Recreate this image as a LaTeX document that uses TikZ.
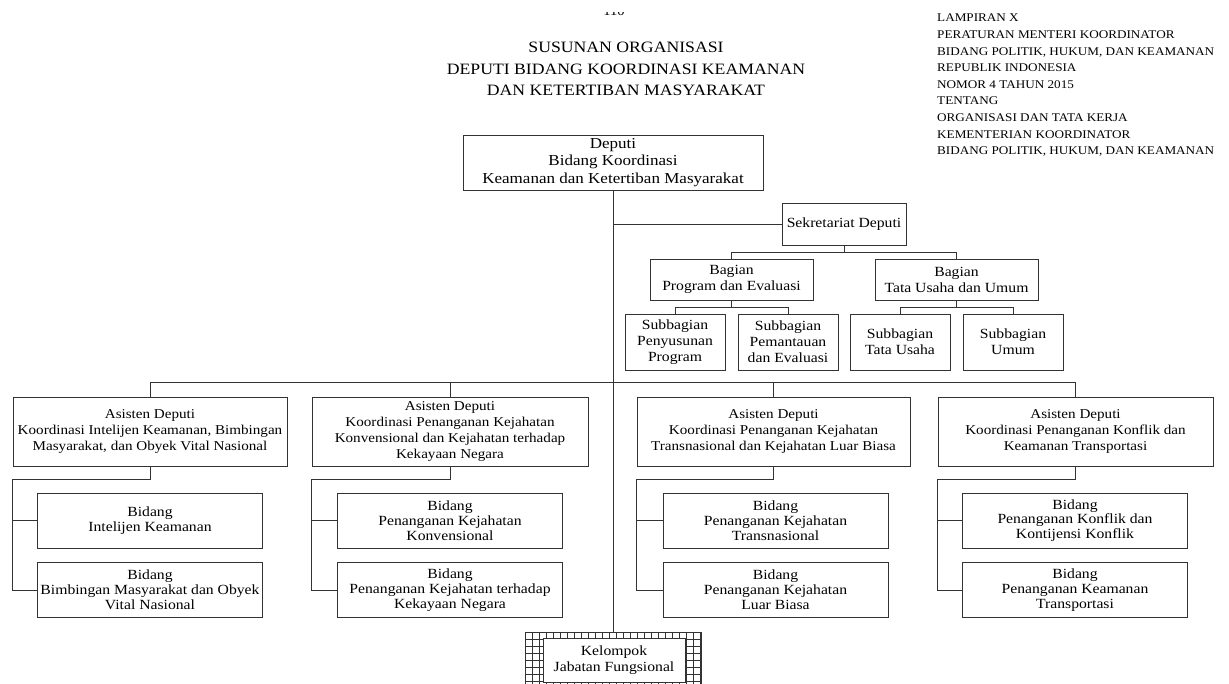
\documentclass[tikz,border=0pt]{standalone}
\usepackage{fontspec}
\setmainfont{Liberation Serif}[FakeStretch=1.12]
\usetikzlibrary{calc}
\tikzset{
  box/.style={draw=black!80, line width=0.9pt, fill=white, align=center, inner sep=0pt,
    font=\fontsize{13.5}{16}\selectfont},
  conn/.style={draw=black!80, line width=0.9pt},
}
\begin{document}
\begin{tikzpicture}[x=1pt,y=-1pt]
\useasboundingbox (0,0) rectangle (1229,683);
\clip (0,0) rectangle (1229,683);
\fill[white] (0,0) rectangle (1229,683);
% page number (cut)
\begin{scope}
\clip (590,12) rectangle (640,20);
\node[anchor=base, font=\fontsize{13}{15}\selectfont, inner sep=0pt] (pg) at (614,15) {110};
\end{scope}
% title
\node[align=center, font=\fontsize{15.8}{21.5}\selectfont, inner sep=0pt] (title) at (626,69)
 {SUSUNAN ORGANISASI\\DEPUTI BIDANG KOORDINASI KEAMANAN\\DAN KETERTIBAN MASYARAKAT};
% header
\node[anchor=north west, align=left, font=\fontsize{11.75}{16.6}\selectfont, inner sep=0pt] (hdr) at (937,14)
 {LAMPIRAN X\\PERATURAN MENTERI KOORDINATOR\\BIDANG POLITIK, HUKUM, DAN KEAMANAN\\REPUBLIK INDONESIA\\NOMOR 4 TAHUN 2015\\TENTANG\\ORGANISASI DAN TATA KERJA\\KEMENTERIAN KOORDINATOR\\BIDANG POLITIK, HUKUM, DAN KEAMANAN};
% Deputi
\node[box, minimum width=300pt, minimum height=55pt, font=\fontsize{15.2}{17.5}\selectfont] (D) at (613,162.5)
 {Deputi\\Bidang Koordinasi\\Keamanan dan Ketertiban Masyarakat};
% Kelompok
\node[minimum width=176pt, minimum height=58pt, inner sep=0pt] (Kout) at (613,661) {};
\begin{scope}
\clip (525,632) rectangle (701,690);
\fill[white] (525,632) rectangle (701,690);
\foreach \i in {0,...,25} {\draw[black!80, line width=0.8pt] (525+7*\i,632) -- (525+7*\i,690);}
\foreach \j in {0,...,8} {\draw[black!80, line width=0.8pt] (525,632+7*\j) -- (701,632+7*\j);}
\end{scope}
\draw[conn] (525,690) -- (525,632) -- (701,632) -- (701,690);
\node[box, minimum width=142pt, minimum height=44pt, font=\fontsize{14}{16}\selectfont] (K) at (614,660) {Kelompok\\Jabatan Fungsional};
% main line
\draw[conn] (D.south) -- (Kout.north);
% Sekretariat
\node[box, minimum width=124pt, minimum height=42pt, font=\fontsize{14}{16}\selectfont] (S) at (844,224) {Sekretariat Deputi};
\draw[conn] (S.west) -- (S.west -| D.south);
\node[box, minimum width=163pt, minimum height=41pt, font=\fontsize{14}{16}\selectfont] (BP) at (731.5,279.5) {Bagian\\Program dan Evaluasi};
\node[box, minimum width=163pt, minimum height=41pt, font=\fontsize{14}{16}\selectfont] (BT) at (956.5,279.5) {Bagian\\Tata Usaha dan Umum};
\draw[conn] (S.south) -- ++(0,7) -| (BP.north);
\draw[conn] (S.south) ++(0,7) -| (BT.north);
\tikzset{sub/.style={box, minimum width=100pt, minimum height=56pt, font=\fontsize{14}{16}\selectfont}}
\node[sub] (SP1) at (675,342) {Subbagian\\Penyusunan\\Program};
\node[sub] (SP2) at (788,342) {Subbagian\\Pemantauan\\dan Evaluasi};
\node[sub] (ST1) at (900,342) {Subbagian\\Tata Usaha};
\node[sub] (ST2) at (1013,342) {Subbagian\\Umum};
\draw[conn] (BP.south) -- ++(0,7) -| (SP1.north);
\draw[conn] (BP.south) ++(0,7) -| (SP2.north);
\draw[conn] (BT.south) -- ++(0,7) -| (ST1.north);
\draw[conn] (BT.south) ++(0,7) -| (ST2.north);
% Asisten Deputi
\node[box, minimum width=274pt, minimum height=69pt] (A1) at (150,431.5)
 {Asisten Deputi\\Koordinasi Intelijen Keamanan, Bimbingan\\Masyarakat, dan Obyek Vital Nasional};
\node[box, minimum width=276pt, minimum height=69pt] (A2) at (450,431.5)
 {Asisten Deputi\\Koordinasi Penanganan Kejahatan\\Konvensional dan Kejahatan terhadap\\Kekayaan Negara};
\node[box, minimum width=273pt, minimum height=69pt] (A3) at (773.5,431.5)
 {Asisten Deputi\\Koordinasi Penanganan Kejahatan\\Transnasional dan Kejahatan Luar Biasa};
\node[box, minimum width=275pt, minimum height=69pt] (A4) at (1075.5,431.5)
 {Asisten Deputi\\Koordinasi Penanganan Konflik dan\\Keamanan Transportasi};
\draw[conn] (A1.north) -- ++(0,-14) -| (A4.north);
\draw[conn] (A2.north) -- ++(0,-14);
\draw[conn] (A3.north) -- ++(0,-14);
% Bidang
\tikzset{bid/.style={box, minimum width=225pt, minimum height=55pt, font=\fontsize{14}{14.8}\selectfont}}
\node[bid] (B11) at (150,520.5) {Bidang\\Intelijen Keamanan};
\node[bid] (B12) at (150,590) {Bidang\\Bimbingan Masyarakat dan Obyek\\Vital Nasional};
\node[bid] (B21) at (450,520.5) {Bidang\\Penanganan Kejahatan\\Konvensional};
\node[bid] (B22) at (450,590) {Bidang\\Penanganan Kejahatan terhadap\\Kekayaan Negara};
\node[bid] (B31) at (775.5,520.5) {Bidang\\Penanganan Kejahatan\\Transnasional};
\node[bid] (B32) at (775.5,590) {Bidang\\Penanganan Kejahatan\\Luar Biasa};
\node[bid] (B41) at (1075,520.5) {Bidang\\Penanganan Konflik dan\\Kontijensi Konflik};
\node[bid] (B42) at (1075,590) {Bidang\\Penanganan Keamanan\\Transportasi};
\foreach \a/\p/\q in {A1/B11/B12, A2/B21/B22, A3/B31/B32, A4/B41/B42} {
  \draw[conn] (\a.south) -- ++(0,13) -| (\q.west -| \a.west) -- (\q.west);
  \draw[conn] (\p.west -| \a.west) -- (\p.west);
}
\end{tikzpicture}
\end{document}
